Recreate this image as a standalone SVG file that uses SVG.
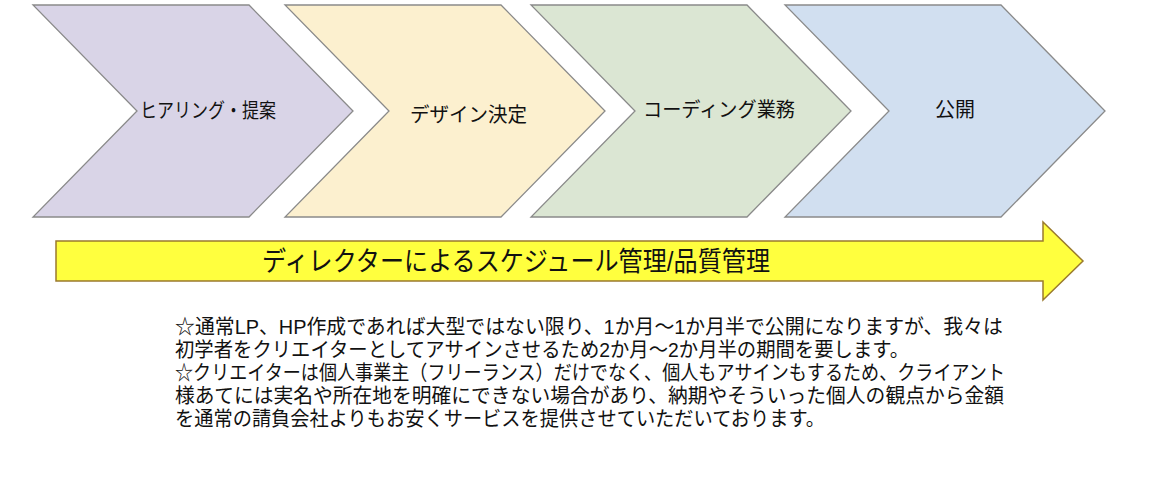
<svg xmlns="http://www.w3.org/2000/svg" width="1170" height="495" viewBox="0 0 1170 495">
<style>
.chev{stroke:#8a8a8a;stroke-width:1.3;}
.lbl{font-family:"Liberation Sans","Noto Sans CJK JP",sans-serif;font-size:20px;fill:#111111;}
.note{font-family:"Liberation Sans","Noto Sans CJK JP",sans-serif;font-size:20.5px;fill:#111111;}
.big{font-family:"Liberation Sans","Noto Sans CJK JP",sans-serif;font-size:27px;fill:#111111;}
</style>
<defs>
<polygon id="chevShape" points="0,5 216,5 320,111 216,217 0,217 104,111"/>
</defs>
<rect width="1170" height="495" fill="#ffffff"/>
<g id="node-hearing">
<use href="#chevShape" x="33" class="chev" fill="#d9d4e7"/>
<text class="lbl" x="140" y="118" textLength="136" lengthAdjust="spacingAndGlyphs">ヒアリング・提案</text>
</g>
<g id="node-design">
<use href="#chevShape" x="285" class="chev" fill="#fcf0cf"/>
<text class="lbl" x="410" y="122" textLength="117" lengthAdjust="spacingAndGlyphs">デザイン決定</text>
</g>
<g id="node-coding">
<use href="#chevShape" x="531" class="chev" fill="#dbe6d3"/>
<text class="lbl" x="643" y="117" textLength="152" lengthAdjust="spacingAndGlyphs">コーディング業務</text>
</g>
<g id="node-release">
<use href="#chevShape" x="785" class="chev" fill="#d1dff0"/>
<text class="lbl" x="935" y="117" textLength="40" lengthAdjust="spacingAndGlyphs">公開</text>
</g>
<g id="connectors">
<polygon points="56,241 1043,241 1043,222 1083,261 1043,300 1043,281 56,281" fill="#ffff3e" stroke="#9a7a2e" stroke-width="1.5" stroke-linejoin="miter"/>
</g>
<g id="node-director">
<text class="big" x="262" y="271" textLength="508" lengthAdjust="spacingAndGlyphs">ディレクターによるスケジュール管理/品質管理</text>
</g>
<g id="node-note">
<text class="note" x="175" y="334" textLength="828" lengthAdjust="spacingAndGlyphs">☆通常LP、HP作成であれば大型ではない限り、1か月～1か月半で公開になりますが、我々は</text>
<text class="note" x="175" y="357" textLength="734" lengthAdjust="spacingAndGlyphs">初学者をクリエイターとしてアサインさせるため2か月～2か月半の期間を要します。</text>
<text class="note" x="175" y="380" textLength="830" lengthAdjust="spacingAndGlyphs">☆クリエイターは個人事業主（フリーランス）だけでなく、個人もアサインもするため、クライアント</text>
<text class="note" x="175" y="403" textLength="829" lengthAdjust="spacingAndGlyphs">様あてには実名や所在地を明確にできない場合があり、納期やそういった個人の観点から金額</text>
<text class="note" x="175" y="426" textLength="650" lengthAdjust="spacingAndGlyphs">を通常の請負会社よりもお安くサービスを提供させていただいております。</text>
</g>
</svg>
